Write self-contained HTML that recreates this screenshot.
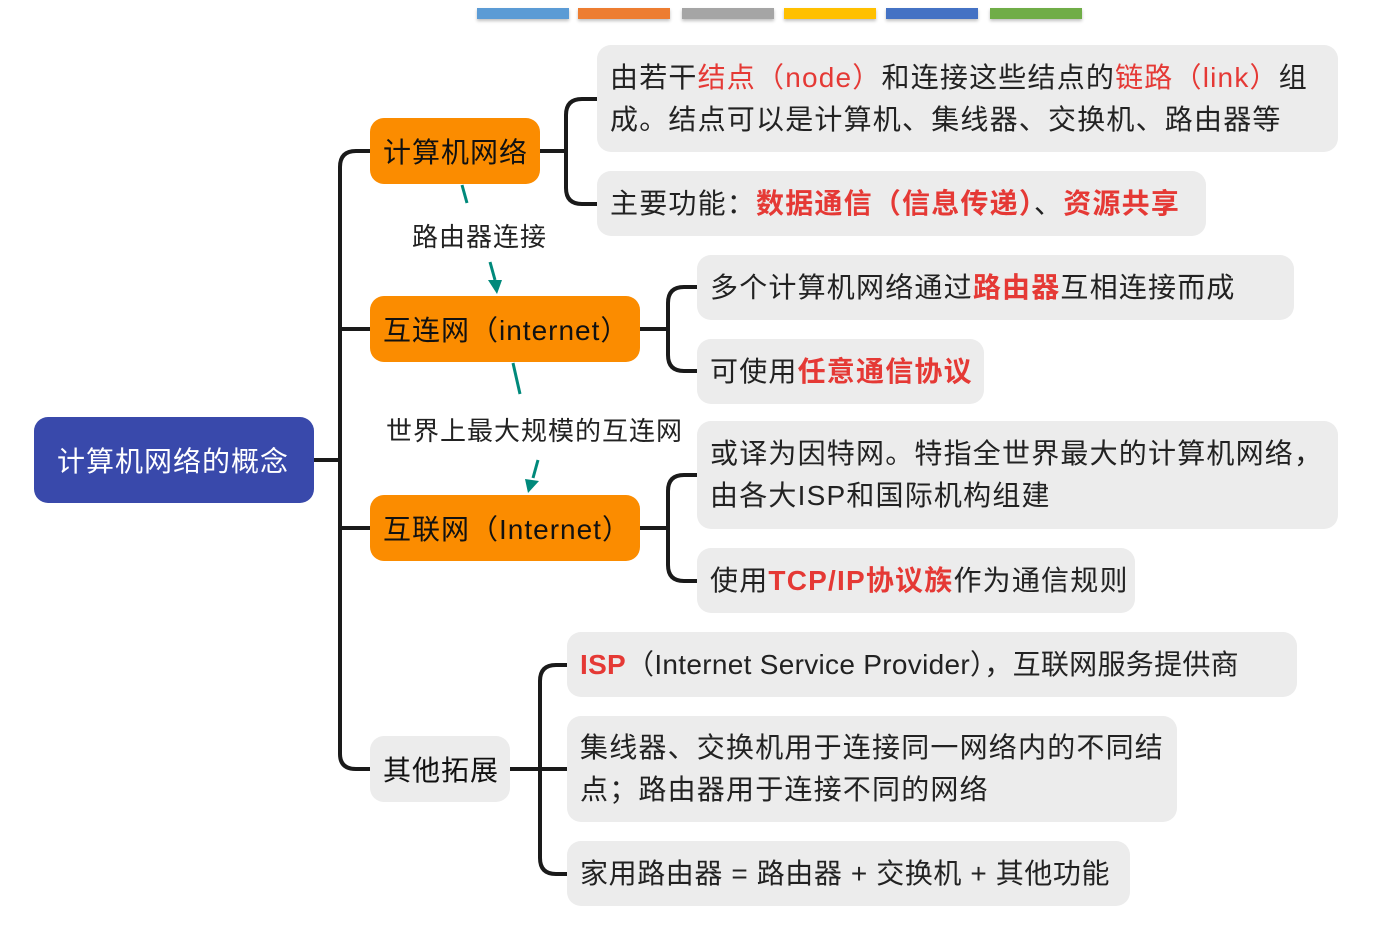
<!DOCTYPE html>
<html><head><meta charset="utf-8"><style>
body{margin:0;width:1387px;height:934px;background:#fff;position:relative;overflow:hidden;font-family:"Liberation Sans","Noto Sans CJK SC",sans-serif;color:#222}
.a{position:absolute;box-sizing:border-box}
.bar{position:absolute;top:8px;height:11px;width:92px;box-shadow:0 2px 3px rgba(0,0,0,.25)}
.n{position:absolute;box-sizing:border-box;background:#fb8c00;border-radius:14px;font-size:28px;letter-spacing:1px;display:flex;align-items:center;padding-left:13px;color:#111;white-space:nowrap}
.l{position:absolute;box-sizing:border-box;background:#ececec;border-radius:14px;font-size:28px;letter-spacing:1.2px;padding-left:13px;line-height:42px;display:flex;flex-direction:column;justify-content:center;color:#222;white-space:nowrap}
.r{color:#e53935}.b{font-weight:bold}
.lab{position:absolute;font-size:26px;letter-spacing:1px;color:#222;white-space:nowrap}
</style></head><body>
<div class="bar" style="left:477px;background:#5b9bd5"></div>
<div class="bar" style="left:578px;background:#ed7d31"></div>
<div class="bar" style="left:682px;background:#a5a5a5"></div>
<div class="bar" style="left:784px;background:#ffc000"></div>
<div class="bar" style="left:886px;background:#4472c4"></div>
<div class="bar" style="left:990px;background:#70ad47"></div>
<svg class="a" style="left:0;top:0" width="1387" height="934">
<g fill="none" stroke="#1a1a1a" stroke-width="4">
<path d="M314 460H340"/>
<path d="M370 151H356Q340 151 340 167V754Q340 769 356 769H370"/>
<path d="M340 329H370M340 528H370"/>
<path d="M540 151H566M597 99H582Q566 99 566 115V188Q566 204 582 204H597"/>
<path d="M640 329H668M697 287H684Q668 287 668 303V355Q668 371 684 371H697"/>
<path d="M640 528H668M697 475H684Q668 475 668 491V565Q668 581 684 581H697"/>
<path d="M510 769H540M567 665H556Q540 665 540 681V858Q540 874 556 874H567M540 769H567"/>
</g>
<g stroke="#00897b" stroke-width="3" fill="none">
<path d="M462 185L467 203"/><path d="M490 262L495 280"/>
<path d="M513 363L520 394"/><path d="M538 460L533 478"/>
</g>
<polygon points="488,280 502,280 497,294" fill="#00897b"/>
<polygon points="525,479 539,481 528,493" fill="#00897b"/>
</svg>
<div class="n" style="left:34px;top:417px;width:280px;height:86px;background:#3949ab;color:#fff;padding-left:23px">计算机网络的概念</div>
<div class="n" style="left:370px;top:118px;width:170px;height:66px">计算机网络</div>
<div class="n" style="left:370px;top:296px;width:270px;height:66px">互连网（internet）</div>
<div class="n" style="left:370px;top:495px;width:270px;height:66px">互联网（Internet）</div>
<div class="n" style="left:370px;top:736px;width:140px;height:66px;background:#ececec">其他拓展</div>
<div class="lab" style="left:412px;top:217px">路由器连接</div>
<div class="lab" style="left:386px;top:411px">世界上最大规模的互连网</div>
<div class="l" style="left:597px;top:45px;width:741px;height:107px"><div>由若干<span class="r">结点（node）</span>和连接这些结点的<span class="r">链路（link）</span>组</div><div>成。结点可以是计算机、集线器、交换机、路由器等</div></div>
<div class="l" style="left:597px;top:171px;width:609px;height:65px"><div>主要功能：<span class="r b">数据通信（信息传递）</span>、<span class="r b">资源共享</span></div></div>
<div class="l" style="left:697px;top:255px;width:597px;height:65px"><div>多个计算机网络通过<span class="r b">路由器</span>互相连接而成</div></div>
<div class="l" style="left:697px;top:339px;width:287px;height:65px"><div>可使用<span class="r b">任意通信协议</span></div></div>
<div class="l" style="left:697px;top:421px;width:641px;height:108px"><div>或译为因特网。特指全世界最大的计算机网络，</div><div>由各大ISP和国际机构组建</div></div>
<div class="l" style="left:697px;top:548px;width:438px;height:65px"><div>使用<span class="r b">TCP/IP协议族</span>作为通信规则</div></div>
<div class="l" style="left:567px;top:632px;width:730px;height:65px;letter-spacing:0.3px"><div><span class="r b">ISP</span>（Internet Service Provider），互联网服务提供商</div></div>
<div class="l" style="left:567px;top:716px;width:610px;height:106px"><div>集线器、交换机用于连接同一网络内的不同结</div><div>点；路由器用于连接不同的网络</div></div>
<div class="l" style="left:567px;top:841px;width:563px;height:65px;letter-spacing:0.6px"><div>家用路由器 = 路由器 + 交换机 + 其他功能</div></div>
</body></html>
